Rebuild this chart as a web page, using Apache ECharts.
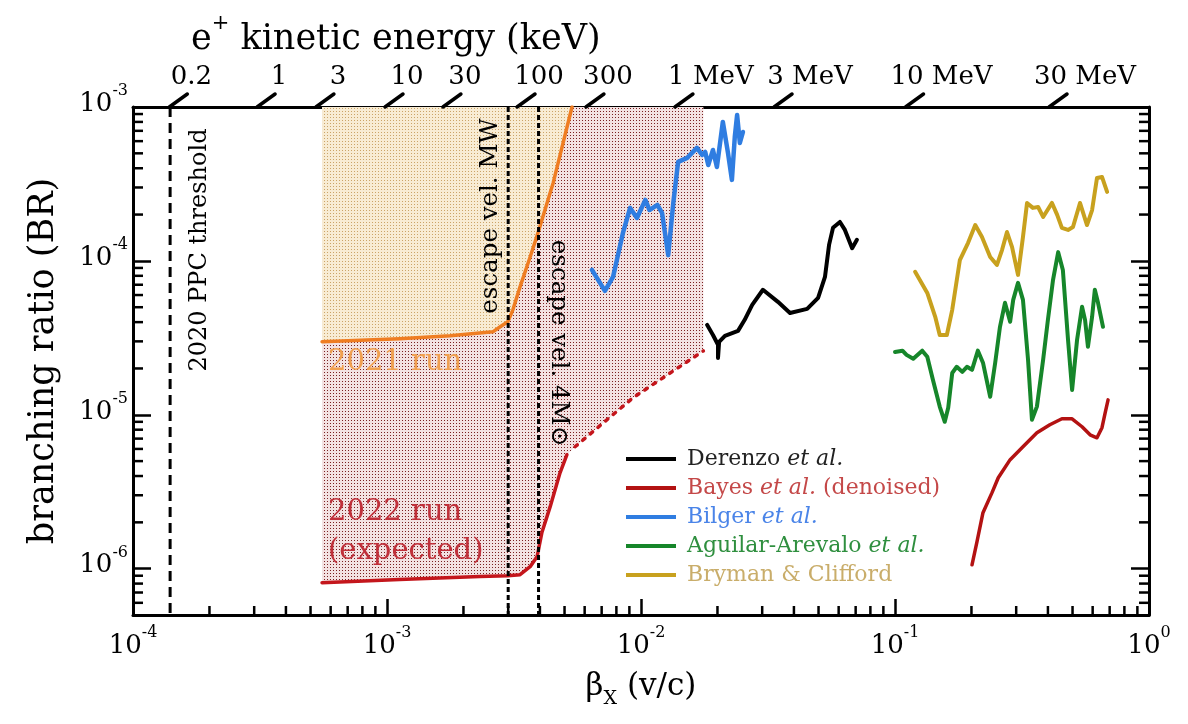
<!DOCTYPE html>
<html><head><meta charset="utf-8">
<script src="https://cdn.jsdelivr.net/npm/echarts@6/dist/echarts.min.js"></script>
<style>html,body{margin:0;padding:0;background:#fff}#c{width:1188px;height:724px}</style>
</head><body><div id="c"></div>
<script>
// ---------- axes ----------
const xMin = 1e-4, xMax = 1, yMin = 5e-7, yMax = 1e-3;
// top axis: e+ kinetic energy ticks (positions in beta)
const energyLabels = ['0.2', '1', '3', '10', '30', '100', '300', '1 MeV', '3 MeV', '10 MeV', '30 MeV'];
const energyBeta = [1.39e-4, 3.08e-4, 5.25e-4, 9.82e-4, 1.66e-3, 3.25e-3, 6.07e-3, 1.36e-2, 3.34e-2, 0.110, 0.404];
// vertical reference lines
const ppcBeta = 1.40e-4;
const mwBeta = 3.0e-3;
const m4Beta = 3.95e-3;

// ---------- series [beta, BR] ----------
const run2021 = [[5.55e-4, 2.98e-5], [1.12e-3, 3.12e-5], [1.77e-3, 3.26e-5], [2.61e-3, 3.46e-5], [2.79e-3, 3.73e-5],
  [2.99e-3, 4.02e-5], [3.13e-3, 4.81e-5], [3.34e-3, 6.78e-5], [3.66e-3, 1.06e-4], [3.93e-3, 1.52e-4],
  [4.51e-3, 3.21e-4], [5.35e-3, 1.0e-3]];
const run2022 = [[5.55e-4, 8.1e-7], [1.12e-3, 8.5e-7], [2.32e-3, 8.9e-7], [2.99e-3, 9.0e-7], [3.34e-3, 9.14e-7],
  [3.66e-3, 1.03e-6], [3.90e-3, 1.20e-6], [4.07e-3, 1.71e-6], [4.39e-3, 2.53e-6], [4.80e-3, 4.20e-6], [5.11e-3, 5.5e-6]];
const run2022Extrap = [[5.5e-3, 6.2e-6], [9.3e-3, 1.29e-5], [1.76e-2, 2.6e-5]];
const derenzo = [[1.82e-2, 3.84e-5], [1.92e-2, 3.30e-5], [2.01e-2, 2.85e-5], [2.01e-2, 2.34e-5], [2.03e-2, 2.98e-5],
  [2.14e-2, 3.26e-5], [2.41e-2, 3.51e-5], [2.56e-2, 4.14e-5], [2.74e-2, 5.18e-5], [3.02e-2, 6.49e-5],
  [3.46e-2, 5.42e-5], [3.86e-2, 4.59e-5], [4.51e-2, 4.88e-5], [4.98e-2, 5.75e-5], [5.30e-2, 7.87e-5],
  [5.50e-2, 1.27e-4], [5.70e-2, 1.64e-4], [6.07e-2, 1.79e-4], [6.35e-2, 1.59e-4], [6.78e-2, 1.21e-4], [7.08e-2, 1.37e-4]];
const bayes = [[0.201, 1.06e-6], [0.210, 1.48e-6], [0.222, 2.31e-6], [0.241, 3.12e-6], [0.255, 3.90e-6],
  [0.284, 5.11e-6], [0.319, 6.19e-6], [0.362, 7.64e-6], [0.407, 8.61e-6], [0.454, 9.42e-6], [0.498, 9.42e-6],
  [0.545, 8.36e-6], [0.586, 7.41e-6], [0.624, 7.09e-6], [0.653, 8.24e-6], [0.672, 1.03e-5], [0.690, 1.25e-5]];
const bilger = [[6.41e-3, 8.74e-5], [7.21e-3, 6.38e-5], [7.76e-3, 7.87e-5], [8.49e-3, 1.52e-4], [9.06e-3, 2.21e-4],
  [9.64e-3, 1.90e-4], [1.04e-2, 2.49e-4], [1.08e-2, 2.14e-4], [1.16e-2, 2.31e-4], [1.21e-2, 2.05e-4],
  [1.28e-2, 1.09e-4], [1.34e-2, 2.38e-4], [1.40e-2, 4.40e-4], [1.52e-2, 4.67e-4], [1.66e-2, 5.42e-4],
  [1.74e-2, 4.88e-4], [1.79e-2, 5.10e-4], [1.84e-2, 4.20e-4], [1.92e-2, 5.26e-4], [1.99e-2, 4.07e-4],
  [2.10e-2, 8.00e-4], [2.20e-2, 5.03e-4], [2.28e-2, 3.36e-4], [2.34e-2, 6.38e-4], [2.39e-2, 8.87e-4],
  [2.45e-2, 5.84e-4], [2.52e-2, 6.88e-4]];
const aguilar = [[0.100, 2.56e-5], [0.107, 2.61e-5], [0.111, 2.45e-5], [0.118, 2.31e-5], [0.128, 2.61e-5],
  [0.134, 2.38e-5], [0.141, 1.69e-5], [0.150, 1.13e-5], [0.157, 9.01e-6], [0.162, 1.11e-5], [0.168, 1.87e-5],
  [0.175, 2.05e-5], [0.184, 1.90e-5], [0.192, 2.05e-5], [0.201, 1.96e-5], [0.212, 2.61e-5], [0.222, 2.18e-5],
  [0.237, 1.31e-5], [0.248, 2.18e-5], [0.259, 3.73e-5], [0.271, 5.34e-5], [0.284, 4.02e-5], [0.292, 5.58e-5],
  [0.305, 7.20e-5], [0.319, 5.58e-5], [0.334, 2.28e-5], [0.346, 9.29e-6], [0.362, 1.13e-5], [0.383, 2.28e-5],
  [0.400, 4.14e-5], [0.419, 7.53e-5], [0.439, 1.14e-4], [0.458, 8.74e-5], [0.480, 3.07e-5], [0.498, 1.45e-5],
  [0.521, 3.07e-5], [0.545, 5.03e-5], [0.560, 4.14e-5], [0.575, 2.77e-5], [0.597, 4.33e-5], [0.612, 6.49e-5],
  [0.630, 5.34e-5], [0.659, 3.73e-5]];
const bryman = [[0.120, 8.49e-5], [0.134, 6.19e-5], [0.144, 4.33e-5], [0.150, 3.30e-5], [0.160, 3.30e-5],
  [0.168, 4.81e-5], [0.180, 1.01e-4], [0.194, 1.31e-4], [0.207, 1.71e-4], [0.220, 1.43e-4], [0.237, 1.06e-4],
  [0.252, 9.42e-5], [0.264, 1.18e-4], [0.276, 1.54e-4], [0.289, 1.23e-4], [0.305, 8.11e-5], [0.319, 1.43e-4],
  [0.331, 2.38e-4], [0.349, 2.21e-4], [0.366, 2.24e-4], [0.383, 1.93e-4], [0.415, 2.38e-4], [0.435, 1.99e-4],
  [0.454, 1.64e-4], [0.480, 1.59e-4], [0.502, 1.66e-4], [0.535, 2.38e-4], [0.570, 1.71e-4], [0.597, 2.14e-4],
  [0.624, 3.46e-4], [0.653, 3.51e-4], [0.684, 2.81e-4]];

// ---------- styles ----------
const FONT = '"DejaVu Serif", "Liberation Serif", serif';
const C = { orange: '#ef7d22', red22: '#c4161c', bayes: '#b31212', black: '#000', blue: '#2f7de1', green: '#16862a', gold: '#c8a11e' };

// stipple pattern: 3px square lattice of 1px dots
function pattern(bg, dot) {
  const c = document.createElement('canvas'); c.width = 6; c.height = 6;
  const g = c.getContext('2d'); g.fillStyle = bg; g.fillRect(0, 0, 6, 6);
  g.fillStyle = dot; g.fillRect(0, 0, 1, 1); g.fillRect(3, 3, 1, 1); g.fillRect(3, 0, 1, 1); g.fillRect(0, 3, 1, 1);
  return c;
}
const redPat = pattern('#f3e2e2', '#7a2020');
const orangePat = pattern('#f8ecd4', '#cba468');

// minor tick positions (2..9 x 10^n)
const minorX = [], minorY = [];
for (let n = -4; n <= -1; n++) for (let m = 2; m <= 9; m++) minorX.push(m * Math.pow(10, n));
for (let n = -7; n <= -4; n++) for (let m = 2; m <= 9; m++) { const v = m * Math.pow(10, n); if (v > yMin * 1.001 && v < yMax * 0.999) minorY.push(v); }

function powLabel(v) { const e = Math.round(Math.log10(v)); return '{b|10}{s|' + (e < 0 ? '-' + (-e) : e) + '}'; }
const powRich = {
  b: { fontFamily: FONT, fontSize: 26, lineHeight: 34, verticalAlign: 'bottom', color: '#000' },
  s: { fontFamily: FONT, fontSize: 16, lineHeight: 16, verticalAlign: 'top', color: '#000' }
};

const legendRich = {};
[['k', '#222'], ['r', '#c44848'], ['b', '#4a84e8'], ['g', '#2f8f3f'], ['y', '#c9ad6a']].forEach(([k, col]) => {
  legendRich[k] = { fontFamily: FONT, fontSize: 22, color: col, padding: [0, 0, 0, 6] };
  legendRich[k + 'n'] = { fontFamily: FONT, fontSize: 22, color: col };
  legendRich[k + 'i'] = { fontFamily: FONT, fontSize: 22, color: col, fontStyle: 'italic' };
});
const legendFmt = {
  'Derenzo et al.': '{k|Derenzo} {ki|et al.}',
  'Bayes et al. (denoised)': '{r|Bayes} {ri|et al.} {rn|(denoised)}',
  'Bilger et al.': '{b|Bilger} {bi|et al.}',
  'Aguilar-Arevalo et al.': '{g|Aguilar-Arevalo} {gi|et al.}',
  'Bryman & Clifford': '{y|Bryman & Clifford}'
};

function lineSeries(name, data, color, width, extra) {
  return Object.assign({ name, type: 'line', data, showSymbol: false, symbol: 'none', animation: false,
    lineStyle: { color, width, join: 'round', cap: 'round' }, itemStyle: { color }, z: 5 }, extra || {});
}

const chart = echarts.init(document.getElementById('c'), null, { renderer: 'canvas' });
chart.setOption({
  animation: false,
  backgroundColor: '#fff',
  title: {
    left: 186, top: 8,
    text: '{a|e}{s|+}{a| kinetic energy (keV)}',
    textStyle: { fontWeight: 'normal', rich: {
      a: { fontFamily: FONT, fontSize: 35, fontWeight: 'normal', lineHeight: 44, verticalAlign: 'bottom', color: '#000' },
      s: { fontFamily: FONT, fontSize: 21, fontWeight: 'normal', lineHeight: 21, verticalAlign: 'top', color: '#000' } } }
  },
  grid: { left: 133, right: 39, top: 107, bottom: 109, containLabel: false },
  legend: {
    orient: 'vertical', left: 621, top: 442, itemWidth: 50, itemHeight: 4, itemGap: 5, icon: 'rect',
    data: ['Derenzo et al.', 'Bayes et al. (denoised)', 'Bilger et al.', 'Aguilar-Arevalo et al.', 'Bryman & Clifford'],
    formatter: n => legendFmt[n],
    textStyle: { fontFamily: FONT, fontSize: 22, lineHeight: 24, rich: legendRich }
  },
  xAxis: [
    { type: 'log', min: xMin, max: xMax, logBase: 10, position: 'bottom',
      name: '{b|β}{sub|X}{b| (v/c)}', nameLocation: 'middle', nameGap: 56,
      nameTextStyle: { rich: {
        b: { fontFamily: FONT, fontSize: 31, lineHeight: 38, verticalAlign: 'top', color: '#000' },
        sub: { fontFamily: FONT, fontSize: 19, lineHeight: 19, verticalAlign: 'bottom', color: '#000' } } },
      axisLine: { show: true, lineStyle: { color: '#000', width: 3 } },
      axisTick: { show: true, inside: true, length: 16, lineStyle: { color: '#000', width: 2.5 } },
      axisLabel: { formatter: powLabel, rich: powRich, margin: 10 },
      splitLine: { show: false }, minorTick: { show: false } },
    { type: 'log', min: xMin, max: xMax, logBase: 10, position: 'top',
      axisLine: { show: true, lineStyle: { color: '#000', width: 3 } },
      axisTick: { show: false }, axisLabel: { show: false }, splitLine: { show: false } }
  ],
  yAxis: [
    { type: 'log', min: yMin, max: yMax, logBase: 10, position: 'left',
      name: 'branching ratio (BR)', nameLocation: 'middle', nameGap: 72,
      nameTextStyle: { fontFamily: FONT, fontSize: 35, color: '#000' },
      axisLine: { show: true, lineStyle: { color: '#000', width: 3 } },
      axisTick: { show: true, inside: true, length: 18, lineStyle: { color: '#000', width: 2.5 } },
      axisLabel: { formatter: powLabel, rich: powRich, margin: 5, showMinLabel: false, padding: [0, 0, 14, 0] },
      splitLine: { show: false } },
    { type: 'log', min: yMin, max: yMax, logBase: 10, position: 'right',
      axisLine: { show: true, lineStyle: { color: '#000', width: 3 } },
      axisTick: { show: true, inside: true, length: 18, lineStyle: { color: '#000', width: 2.5 } },
      axisLabel: { show: false }, splitLine: { show: false } }
  ],
  graphic: [
    { type: 'text', x: 328, y: 362, z: 50, style: { text: '2021 run', font: '29px ' + FONT, fill: '#f0a050', verticalAlign: 'middle' } },
    { type: 'text', x: 328, y: 512, z: 50, style: { text: '2022 run', font: '29px ' + FONT, fill: '#c0303a', verticalAlign: 'middle' } },
    { type: 'text', x: 328, y: 551, z: 50, style: { text: '(expected)', font: '29px ' + FONT, fill: '#c0303a', verticalAlign: 'middle' } },
    { type: 'text', x: 200, y: 250, rotation: Math.PI / 2, z: 50, style: { text: '2020 PPC threshold', font: '24px ' + FONT, fill: '#000', align: 'center', verticalAlign: 'middle' } },
    { type: 'text', x: 491, y: 216, rotation: Math.PI / 2, z: 50, style: { text: 'escape vel. MW', font: '24.5px ' + FONT, fill: '#000', align: 'center', verticalAlign: 'middle' } },
    { type: 'text', x: 558, y: 343, rotation: -Math.PI / 2, z: 50, style: { text: 'escape vel. 4M⊙', font: '24.5px ' + FONT, fill: '#000', align: 'center', verticalAlign: 'middle' } }
  ],
  series: [
    // shaded regions
    { name: 'area2022', type: 'line', data: run2022.concat(run2022Extrap), showSymbol: false, symbol: 'none', z: 1,
      itemStyle: { color: '#f3e2e2' }, lineStyle: { width: 0, opacity: 0 },
      areaStyle: { origin: 'end', color: { image: redPat, repeat: 'repeat' }, opacity: 1 }, silent: true },
    lineSeries('2021 run', run2021, C.orange, 3.5, { z: 2, areaStyle: { origin: 'end', color: { image: orangePat, repeat: 'repeat' }, opacity: 1 } }),
    lineSeries('2022 run', run2022, C.red22, 3.5),
    lineSeries('2022 extrap', run2022Extrap, C.red22, 3.5, { lineStyle: { color: C.red22, width: 3.5, type: [3, 7], cap: 'round' } }),
    lineSeries('Derenzo et al.', derenzo, C.black, 4),
    lineSeries('Bayes et al. (denoised)', bayes, C.bayes, 3.5),
    lineSeries('Bilger et al.', bilger, C.blue, 4.5),
    lineSeries('Aguilar-Arevalo et al.', aguilar, C.green, 4),
    lineSeries('Bryman & Clifford', bryman, C.gold, 4),
    // vertical dashed reference lines
    { type: 'custom', silent: true, z: 10, data: [[ppcBeta, 0], [mwBeta, 1], [m4Beta, 1]],
      renderItem: (params, api) => {
        const cs = params.coordSys;
        const p = api.coord([api.value(0), yMax]);
        const dash = api.value(1) === 0 ? [10, 6] : [5, 3];
        return { type: 'line', shape: { x1: p[0], y1: cs.y, x2: p[0], y2: cs.y + cs.height },
          style: { stroke: '#000', lineWidth: 3, lineDash: dash } };
      } },
    // minor ticks on bottom axis
    { type: 'custom', silent: true, z: 20, data: minorX.map(v => [v, yMin]),
      renderItem: (params, api) => {
        const p = api.coord([api.value(0), yMin]);
        return { type: 'line', shape: { x1: p[0], y1: p[1], x2: p[0], y2: p[1] - 9 }, style: { stroke: '#000', lineWidth: 2.5 } };
      } },
    // minor ticks on left/right axes
    { type: 'custom', silent: true, z: 20, data: minorY.map(v => [xMin, v]),
      renderItem: (params, api) => {
        const cs = params.coordSys;
        const p = api.coord([xMin, api.value(1)]);
        return { type: 'group', children: [
          { type: 'line', shape: { x1: cs.x, y1: p[1], x2: cs.x + 10, y2: p[1] }, style: { stroke: '#000', lineWidth: 2.5 } },
          { type: 'line', shape: { x1: cs.x + cs.width, y1: p[1], x2: cs.x + cs.width - 10, y2: p[1] }, style: { stroke: '#000', lineWidth: 2.5 } }
        ] };
      } },
    // top energy axis ticks and labels
    { type: 'custom', silent: true, z: 20, clip: false, data: energyBeta.map((b, i) => [b, yMax, i]),
      renderItem: (params, api) => {
        const p = api.coord([api.value(0), yMax]);
        const txt = energyLabels[api.value(2)];
        const dx = txt.indexOf('MeV') >= 0 ? 36 : 22;
        return { type: 'group', children: [
          { type: 'line', shape: { x1: p[0], y1: p[1], x2: p[0] + 18, y2: p[1] - 13 }, style: { stroke: '#000', lineWidth: 3.5, lineCap: 'round' } },
          { type: 'text', x: p[0] + dx, y: p[1] - 30, style: { text: txt, font: '26px ' + FONT, fill: '#000', align: 'center', verticalAlign: 'middle' } }
        ] };
      } }
  ]
});
</script></body></html>
